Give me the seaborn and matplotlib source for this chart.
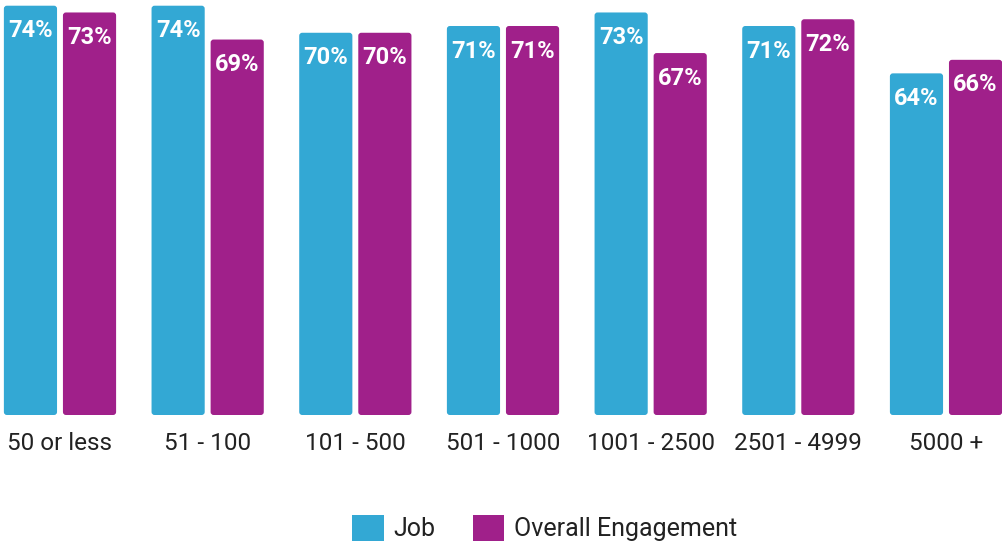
import matplotlib
matplotlib.use("Agg")
import matplotlib.pyplot as plt
from matplotlib.patches import FancyBboxPatch, Patch
import seaborn as sns
import pandas as pd

categories = ["50 or less", "51 - 100", "101 - 500", "501 - 1000", "1001 - 2500", "2501 - 4999", "5000 +"]
job = [74, 74, 70, 71, 73, 71, 64]
overall = [73, 69, 70, 71, 67, 72, 66]
series_names = ["Job", "Overall Engagement"]
colors = {"Job": "#33A8D4", "Overall Engagement": "#A0208A"}

df = pd.DataFrame({
    "cat": categories * 2,
    "series": [series_names[0]] * len(categories) + [series_names[1]] * len(categories),
    "value": job + overall,
})

sns.set_theme(style="white")
plt.rcParams["font.family"] = ["Roboto", "DejaVu Sans"]

fig = plt.figure(figsize=(10.03, 5.44), dpi=100)
ax = fig.add_axes([0, 1 - 415 / 544, 1, 415 / 544])

sns.barplot(data=df, x="cat", y="value", hue="series", palette=colors,
            width=0.8, gap=0.1, ax=ax, legend=False, saturation=1, errorbar=None)

xmin, xmax = -60 / 147.7, 6 + 57 / 147.7
ymin, ymax = 13.5, 74 + 5.7 / 6.76
ax.set_xlim(xmin, xmax)
ax.set_ylim(ymin, ymax)

# rounded bars
px_x = (xmax - xmin) / 1003
px_y = (ymax - ymin) / 415
aspect = px_y / px_x
r = 3 * px_x
bars = list(ax.patches)
for p in bars:
    x, y, w, h = p.get_x(), p.get_y(), p.get_width(), p.get_height()
    fc = p.get_facecolor()
    p.remove()
    y0 = ymin
    h0 = (y + h) - ymin
    fb = FancyBboxPatch((x, y0), w, h0,
                        boxstyle=f"round,pad=0,rounding_size={r}",
                        mutation_aspect=aspect, facecolor=fc, edgecolor="none",
                        clip_on=False)
    ax.add_patch(fb)
    ax.annotate(f"{int(round(y + h))}%", (x + w / 2, y + h), xytext=(0, -18),
                textcoords="offset points", ha="center", va="center",
                color="white", fontsize=17, fontweight="bold")

for s in ax.spines.values():
    s.set_visible(False)
ax.set_xlabel("")
ax.set_ylabel("")
ax.set_yticks([])
ax.tick_params(axis="x", length=0, pad=12, labelsize=17.5, labelcolor="#222222")

handles = [Patch(facecolor=colors[n], edgecolor="none", label=n) for n in series_names]
leg = fig.legend(handles=handles, loc="center", bbox_to_anchor=(545 / 1003, 1 - 528 / 544),
                 ncol=2, frameon=False, fontsize=18, handlelength=1.25, handleheight=1.2,
                 handletextpad=0.4, columnspacing=1.5, labelcolor="#222222")

fig.savefig("out.png", dpi=100)
